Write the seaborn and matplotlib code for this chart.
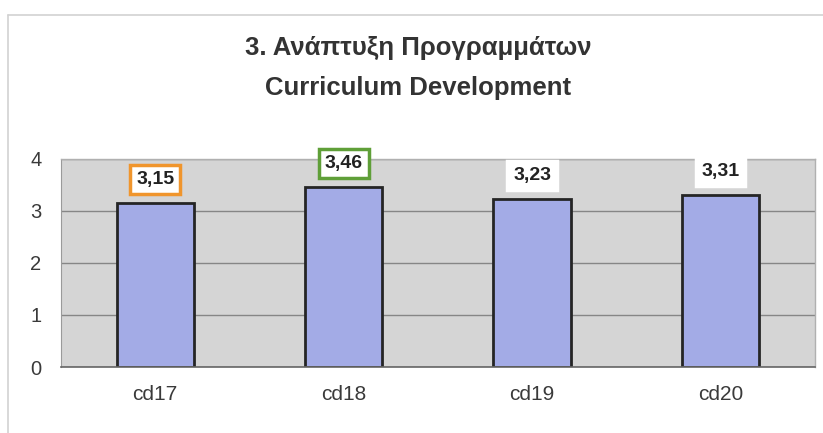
import pandas as pd
import numpy as np
import seaborn as sns
import matplotlib.pyplot as plt
from matplotlib.lines import Line2D

# data
items = ["cd17", "cd18", "cd19", "cd20"]
means = [3.15, 3.46, 3.23, 3.31]
value_labels = ["3,15", "3,46", "3,23", "3,31"]
label_edges = ["#f0952c", "#5f9f38", "white", "white"]

df = pd.DataFrame({"item": items, "mean": means})

sns.set_style("white")
plt.rcParams['font.family'] = ['Liberation Sans', 'DejaVu Sans']

fig = plt.figure(figsize=(8.23, 4.33), dpi=100)
ax = fig.add_axes([0.0741, 0.1524, 0.9159, 0.4806])

sns.barplot(data=df, x="item", y="mean", ax=ax, color="#a3abe6",
            edgecolor="#252525", linewidth=2.0, width=0.41, saturation=1)

ax.set_facecolor("#d5d5d5")
ax.set_ylim(0, 4)
ax.set_yticks([0, 1, 2, 3, 4])
ax.set_xlim(-0.5, 3.5)
ax.yaxis.grid(True, color="#868686", linewidth=1.0)
ax.set_axisbelow(True)
ax.set_xlabel("")
ax.set_ylabel("")
ax.tick_params(axis="y", labelsize=14.5, labelcolor="#3a3a3a", length=5,
               color="#888888", pad=9)
ax.tick_params(axis="x", labelsize=15, labelcolor="#3a3a3a", length=0, pad=13)

for side in ["top", "right"]:
    ax.spines[side].set_color("#b0b0b0")
    ax.spines[side].set_linewidth(1.0)
ax.spines["left"].set_color("#9a9a9a")
ax.spines["bottom"].set_color("#666666")
ax.spines["bottom"].set_linewidth(1.2)

# value labels above the bars
for i, (v, lab, ec) in enumerate(zip(means, value_labels, label_edges)):
    ax.annotate(lab, xy=(i, v), xytext=(0, 17), textcoords="offset points",
                ha="center", va="center", fontsize=14, fontweight="bold",
                color="#222222",
                bbox=dict(boxstyle="square,pad=0.3", facecolor="white",
                          edgecolor=ec, linewidth=2.5))

# title, two lines
fig.text(418 / 823, 1 - 48 / 433, "3. Ανάπτυξη Προγραμμάτων", ha="center",
         va="center", fontsize=18.5, fontweight="bold", color="#333333")
fig.text(418 / 823, 1 - 88 / 433, "Curriculum Development", ha="center",
         va="center", fontsize=18.5, fontweight="bold", color="#333333")

# light outer chart frame
fig.add_artist(Line2D([8 / 823, 1], [1 - 15 / 433, 1 - 15 / 433],
                      transform=fig.transFigure, color="#d2d2d2", linewidth=1.2))
fig.add_artist(Line2D([8 / 823, 8 / 823], [0, 1 - 15 / 433],
                      transform=fig.transFigure, color="#d2d2d2", linewidth=1.2))

fig.savefig("out.png", dpi=100)
